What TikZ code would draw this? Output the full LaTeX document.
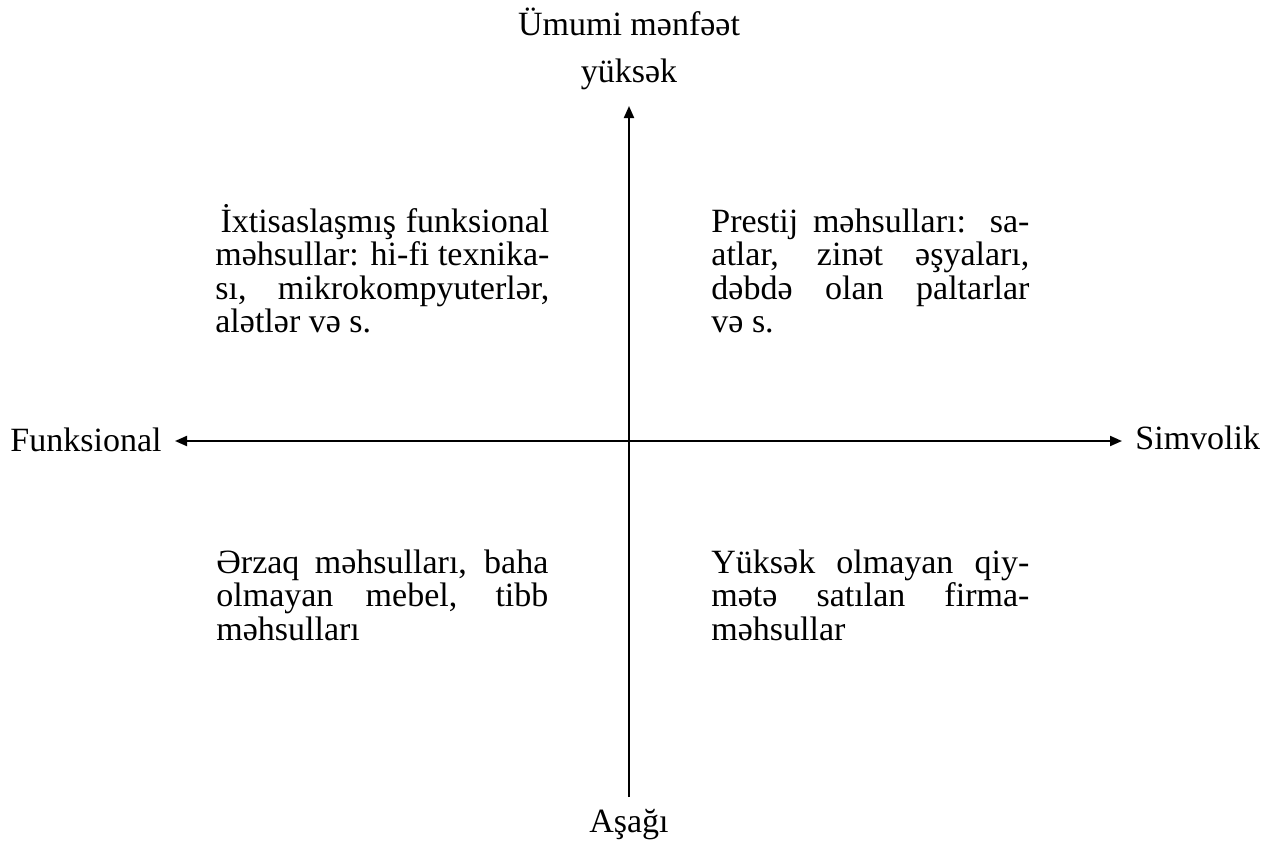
\documentclass[tikz,border=0pt]{standalone}
\usepackage{fontspec}
\setmainfont{Liberation Serif}
\usepackage{tikz}
\usetikzlibrary{arrows.meta, positioning}
\tikzset{
  >={Triangle[length=6pt, width=5pt]},
  axisline/.style={line width=1pt},
  quadtext/.style={text width=#1, align=justify, inner sep=0, anchor=base west, font=\fontsize{17}{16.75}\selectfont},
  quadtext/.default=166pt,
  axislabel/.style={inner sep=0, font=\fontsize{17}{20}\selectfont},
}

\begin{document}
\begin{tikzpicture}[x=0.5pt, y=-0.5pt]
\useasboundingbox (0,0) rectangle (1274,841);
%axis end points
\coordinate (top_end) at (629,106);
\coordinate (bottom_end) at (629,797);
\coordinate (left_end) at (175,441);
\coordinate (right_end) at (1122,441);
%axis labels
\node[axislabel, anchor=base] (title) at (629,35) {Ümumi mənfəət};
\node[axislabel, anchor=base] (high) at (629,82) {yüksək};
\node[axislabel, anchor=base] (low) at (629,832) {Aşağı};
\node[axislabel, anchor=base east] (functional) at (162,451) {Funksional};
\node[axislabel, anchor=base west] (symbolic) at (1135,449) {Simvolik};
%the two axes
\draw[axisline, ->] (bottom_end) -- (top_end);
\draw[axisline, <->] (left_end) -- (right_end);
%quadrants
\node[quadtext=167pt] (q_top_left) at (215,232) {\hspace*{.15em}İxtisaslaşmış funksional\linebreak məhsullar: hi-fi texnika-\linebreak sı, mikrokompyuterlər,\linebreak alətlər və s.};
\node[quadtext=159pt] (q_top_right) at (711,232) {Prestij məhsulları: sa-\linebreak atlar, zinət əşyaları,\linebreak dəbdə olan paltarlar\linebreak və s.};
\node[quadtext=166pt] (q_bottom_left) at (216,573) {Ərzaq məhsulları, baha\linebreak olmayan mebel, tibb\linebreak məhsulları};
\node[quadtext=159pt] (q_bottom_right) at (711,573) {Yüksək olmayan qiy-\linebreak mətə satılan firma-\linebreak məhsullar};
\end{tikzpicture}
\end{document}
